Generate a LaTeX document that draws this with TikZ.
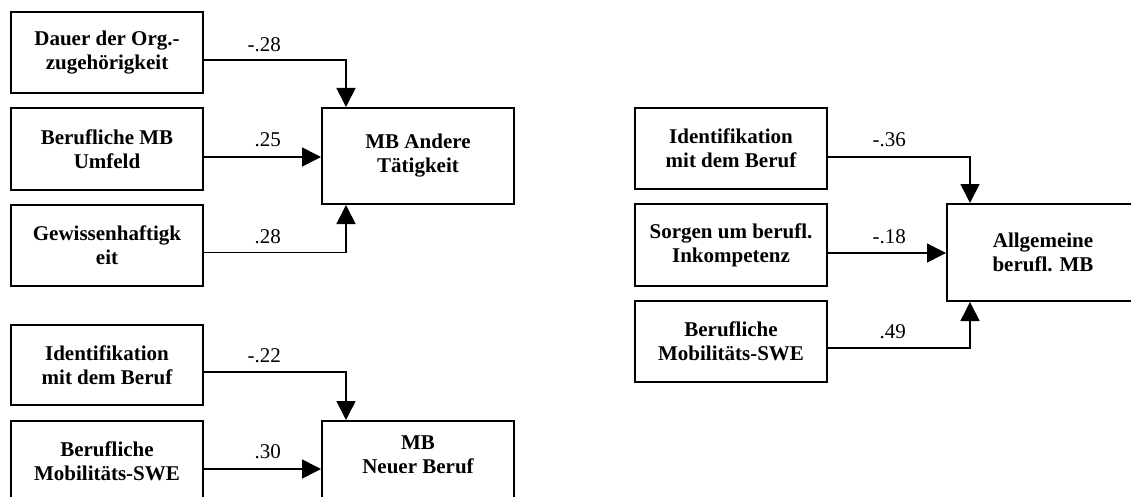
\documentclass[tikz,border=0pt]{standalone}
\usepackage{fontspec}
\setmainfont{Liberation Serif}
\usetikzlibrary{arrows.meta,calc}
\begin{document}
\begin{tikzpicture}[x=1pt,y=-1pt,
  every node/.style={font=\fontsize{21}{24}\selectfont},
  src/.style={draw,line width=2pt,minimum width=192pt,minimum height=81pt,inner sep=0pt,align=center,font=\fontsize{21}{24}\selectfont\bfseries},
  tgt/.style={src,minimum height=96pt},
  conn/.style={line width=1.6pt,-{Triangle[length=19pt,width=19pt]}},
  coef/.style={anchor=base east,inner sep=0pt}]
\useasboundingbox (0,0) rectangle (1131,497);
% group 1
\node[src] (s1) at (107,53) {Dauer der Org.-\\zugehörigkeit};
\node[src] (s2) at (107,149) {Berufliche MB\\Umfeld};
\node[src] (s3) at (107,245.5) {Gewissenhaftigk\\eit};
\node[tgt] (tA) at (418,156) {MB Andere\\Tätigkeit};
\coordinate (p1) at ([yshift=-7pt]s1.east);
\coordinate (p2) at ([yshift=-8pt]s2.east);
\coordinate (p3) at ([yshift=-7pt]s3.east);
\draw[conn] (p1) -| ([xshift=25pt]tA.north west);
\draw[conn] (p2) -- (tA.west |- p2);
\draw[conn] (p3) -| ([xshift=25pt]tA.south west);
\node[coef] (c1) at ($(p1)+(77,-8)$) {-.28};
\node[coef] (c2) at ($(p2)+(77,-10)$) {.25};
\node[coef] (c3) at ($(p3)+(77,-9)$) {.28};
% group 2
\node[src,minimum height=80pt] (s4) at (107,365) {Identifikation\\mit dem Beruf};
\node[src,minimum height=80pt] (s5) at (107,461) {Berufliche\\Mobilitäts-SWE};
\node[tgt] (tB) at (418,469) {MB\\Neuer Beruf\rule[-28pt]{0pt}{0pt}};
\coordinate (p4) at ([yshift=-7pt]s4.east);
\coordinate (p5) at ([yshift=-8pt]s5.east);
\draw[conn] (p4) -| ([xshift=25pt]tB.north west);
\draw[conn] (p5) -- (tB.west |- p5);
\node[coef] (c4) at ($(p4)+(77,-10)$) {-.22};
\node[coef] (c5) at ($(p5)+(77,-11)$) {.30};
% group 3
\node[src] (s6) at (731,148.5) {Identifikation\\mit dem Beruf};
\node[src,minimum height=82pt] (s7) at (731,245) {Sorgen um berufl.\\Inkompetenz};
\node[src] (s8) at (731,341.5) {Berufliche\\Mobilitäts-SWE};
\node[tgt,minimum height=97pt] (tC) at (1043,252.5) {Allgemeine\\berufl. MB};
\coordinate (p6) at ([yshift=-8.5pt]s6.east);
\coordinate (p7) at ([yshift=-8pt]s7.east);
\coordinate (p8) at ([yshift=-6.5pt]s8.east);
\draw[conn] (p6) -| ([xshift=24pt]tC.north west);
\draw[conn] (p7) -- (tC.west |- p7);
\draw[conn] (p8) -| ([xshift=24pt]tC.south west);
\node[coef] (c6) at ($(p6)+(78,-10)$) {-.36};
\node[coef] (c7) at ($(p7)+(78,-10)$) {-.18};
\node[coef] (c8) at ($(p8)+(78,-10)$) {.49};
\end{tikzpicture}
\end{document}
